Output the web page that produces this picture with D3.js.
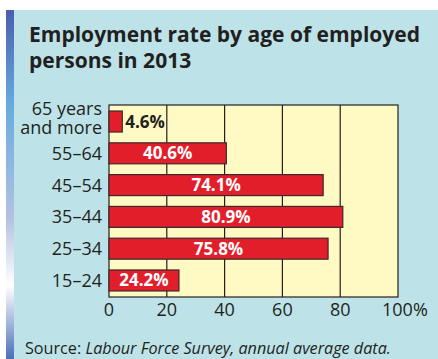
<!DOCTYPE html>
<html lang="en">
  <head>
    <meta charset='UTF-8'>
    <title>Employment rate by age</title>
    <script src="https://d3js.org/d3.v7.min.js"></script>
    <style>
      body { margin: 0; background: #fff; }
      text { font-family: "Open Sans", sans-serif; fill: #231f20; }
    </style>
  </head>
  <body>
    <svg id="chart" width="438" height="359"></svg>
    <script>
    // values
    var ageGroups = ["65 years\nand more", "55–64", "45–54", "35–44", "25–34", "15–24"];
    var rates = [4.6, 40.6, 74.1, 80.9, 75.8, 24.2];
    var ticks = [0, 20, 40, 60, 80, 100];

    var svg = d3.select("#chart");
    var W = 438, H = 359;

    // shrink/grow a text until it spans the wanted width
    function fitWidth(sel, target) {
      var fs = parseFloat(sel.style("font-size"));
      var w = sel.node().getComputedTextLength();
      sel.style("font-size", (fs * target / w).toFixed(2) + "px");
      return fs * target / w;
    }

    // panel + left gradient strip
    svg.append("rect").attr("x", 6).attr("y", 10).attr("width", W - 6).attr("height", H - 10)
      .attr("fill", "#bde3e8");
    var grad = svg.append("defs").append("linearGradient")
      .attr("id", "strip").attr("x1", 0).attr("y1", 0).attr("x2", 0).attr("y2", 1);
    [[0, "#4a5eae"], [0.27, "#66abde"], [0.6, "#b4c2e2"], [0.79, "#ffffff"], [1, "#4a6eb9"]]
      .forEach(function(s) { grad.append("stop").attr("offset", s[0]).attr("stop-color", s[1]); });
    svg.append("rect").attr("x", 6).attr("y", 10).attr("width", 8).attr("height", H - 10)
      .attr("fill", "url(#strip)");

    // title
    var t1 = svg.append("text").attr("x", 29).attr("y", 42)
      .style("font-size", "20px").style("font-weight", "bold")
      .text("Employment rate by age of employed");
    fitWidth(t1, 391);
    svg.append("text").attr("x", 29).attr("y", 68)
      .style("font-size", t1.style("font-size")).style("font-weight", "bold")
      .text("persons in 2013");

    var pLeft = 109, pRight = 398, pTop = 105, pBottom = 297;
    var x = d3.scaleLinear().domain([0, 100]).range([pLeft, pRight]);
    var y = d3.scaleBand().domain(ageGroups).range([pTop, pBottom]).paddingInner(0.34).paddingOuter(0.19);

    svg.append("rect").attr("x", pLeft).attr("y", pTop).attr("width", pRight - pLeft).attr("height", pBottom - pTop)
      .attr("fill", "#fff9c4").attr("stroke", "#231f20").attr("stroke-width", 1.2);

    svg.append("g").selectAll("line").data(ticks.slice(1, -1)).enter().append("line")
      .attr("x1", function(d) { return x(d); }).attr("x2", function(d) { return x(d); })
      .attr("y1", pTop).attr("y2", pBottom)
      .attr("stroke", "#231f20").attr("stroke-width", 1.2);

    var bars = svg.append("g").selectAll("g").data(rates).enter().append("g");
    bars.append("rect")
      .attr("x", x(0))
      .attr("y", function(d, i) { return y(ageGroups[i]); })
      .attr("width", function(d) { return x(d) - x(0); })
      .attr("height", y.bandwidth())
      .attr("fill", "#e31e2b").attr("stroke", "#3a2a2a").attr("stroke-width", 1.2);

    bars.append("text")
      .attr("x", function(d) { return d < 10 ? x(d) + 3 : (x(0) + x(d)) / 2; })
      .attr("y", function(d, i) { return y(ageGroups[i]) + y.bandwidth() / 2 + 6; })
      .attr("text-anchor", function(d) { return d < 10 ? "start" : "middle"; })
      .style("font-size", "17px").style("font-weight", "bold")
      .style("fill", function(d) { return d < 10 ? "#231f20" : "#fff"; })
      .text(function(d) { return d.toFixed(1) + "%"; });

    // category labels (multi-line one as separate lines)
    var catG = svg.append("g");
    ageGroups.forEach(function(d) {
      var lines = d.split("\n");
      var cy = y(d) + y.bandwidth() / 2;
      var shift = lines.length > 1 ? 3 : 6.5;
      lines.forEach(function(l, k) {
        catG.append("text")
          .attr("x", 102)
          .attr("y", cy + shift + (k - (lines.length - 1) / 2) * 19)
          .attr("text-anchor", "end")
          .style("font-size", "18px")
          .text(l);
      });
    });

    // x tick labels
    svg.append("g").selectAll("text").data(ticks).enter().append("text")
      .attr("x", function(d) { return x(d); })
      .attr("y", 316)
      .attr("text-anchor", function(d) { return d === 100 ? "start" : "middle"; })
      .attr("dx", function(d) { return d === 100 ? -16 : 0; })
      .style("font-size", "18px")
      .text(function(d) { return d === 100 ? "100%" : d; });

    // source
    var src = svg.append("text").attr("x", 25).attr("y", 354).style("font-size", "15px");
    src.append("tspan").text("Source: ");
    src.append("tspan").style("font-style", "italic").text("Labour Force Survey, annual average data.");
    fitWidth(src, 366);
    </script>
  </body>
</html>
